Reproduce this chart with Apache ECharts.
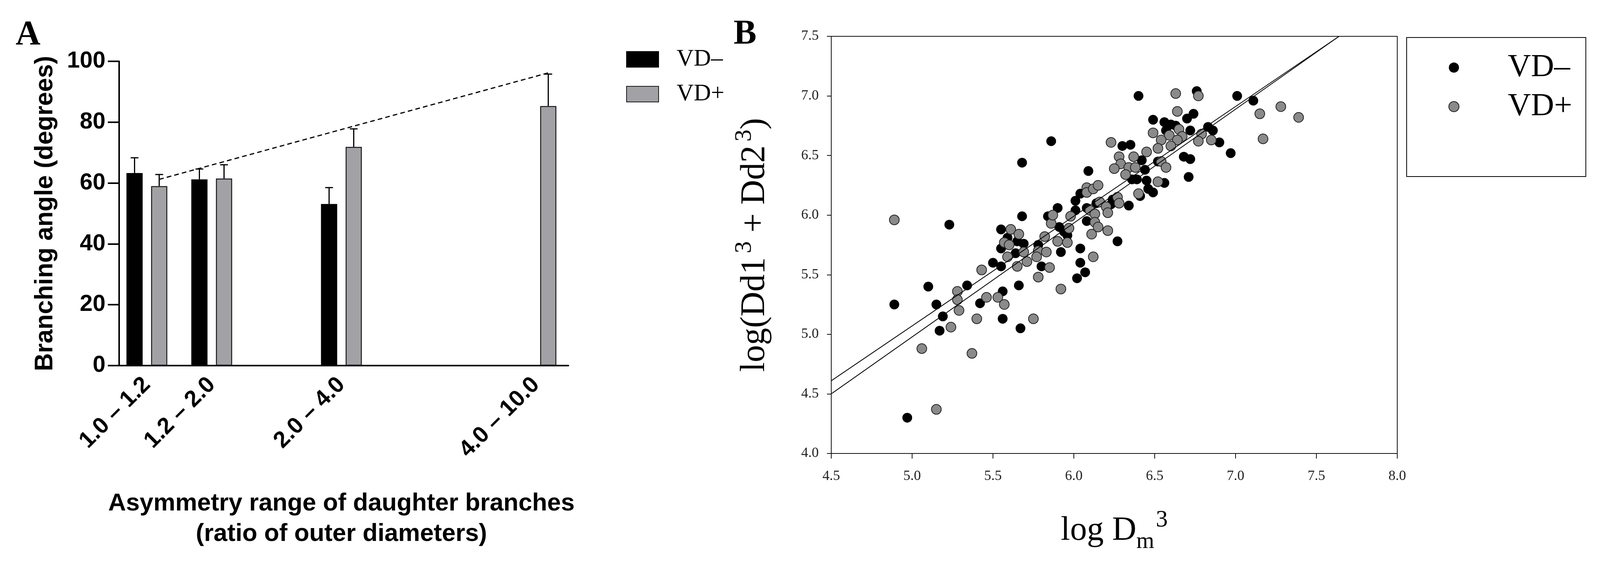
<!DOCTYPE html>
<html>
<head>
<meta charset="utf-8">
<script src="https://cdn.jsdelivr.net/npm/echarts@6/dist/echarts.min.js"></script>
<style>
  html, body { margin: 0; padding: 0; background: #fff; overflow: hidden; }
  #chart { width: 100vw; height: 100vh; }
</style>
</head>
<body>
<div id="chart"></div>
<script>
// panel A: branching angle by asymmetry range
var categories = ['1.0 – 1.2', '1.2 – 2.0', '', '2.0 – 4.0', '', '', '4.0 – 10.0'];
var vdMinusMean = [63.3, 61.2, null, 53.1, null, null, null];
var vdMinusErr = [5.0, 3.4, null, 5.4, null, null, null];
var vdPlusMean = [59.0, 61.5, null, 71.9, null, null, 85.3];
var vdPlusErr = [3.8, 4.5, null, 5.9, null, null, 10.5];
// dashed trend through the VD+ bars (first and last group)
var trendIdx = [0, 6];
var trendVal = [61.2, 96.2];

// panel B: log Dm^3 vs log(Dd1^3 + Dd2^3)
var vdMinusPoints = [
  [4.89, 5.25], [5.10, 5.40], [4.97, 4.30], [5.17, 5.03], [5.19, 5.15], [5.15, 5.25],
  [5.34, 5.41], [5.42, 5.26], [5.23, 5.92], [5.56, 5.13], [5.67, 5.05],
  [5.68, 6.44], [6.09, 6.37], [5.68, 5.99], [5.55, 5.88], [5.59, 5.81], [5.65, 5.78],
  [5.69, 5.76], [5.55, 5.72], [5.64, 5.68], [5.50, 5.60], [5.55, 5.57], [5.56, 5.36],
  [5.66, 5.41], [5.80, 5.57], [5.92, 5.69], [6.04, 5.72], [6.04, 5.60], [6.07, 5.52],
  [6.02, 5.47], [5.78, 5.75], [5.91, 5.90], [5.94, 5.86], [5.96, 5.83], [5.84, 5.99],
  [5.90, 6.06], [6.01, 6.04], [6.01, 6.12], [6.04, 6.18], [6.08, 6.06], [6.08, 5.95],
  [6.14, 6.10], [6.27, 5.78], [5.86, 6.62],
  [6.40, 7.00], [6.76, 7.04], [7.01, 7.00], [7.11, 6.96], [6.74, 6.85], [6.70, 6.81],
  [6.49, 6.80], [6.56, 6.78], [6.60, 6.76], [6.63, 6.75], [6.57, 6.71], [6.72, 6.71],
  [6.83, 6.74], [6.86, 6.71], [6.90, 6.61], [6.97, 6.52], [6.68, 6.49], [6.72, 6.47],
  [6.71, 6.32], [6.52, 6.45], [6.56, 6.27], [6.30, 6.58], [6.35, 6.59], [6.42, 6.46],
  [6.44, 6.38], [6.36, 6.30], [6.39, 6.30], [6.45, 6.29], [6.41, 6.16], [6.49, 6.19],
  [6.46, 6.22], [6.24, 6.13], [6.34, 6.08], [6.23, 6.09]
];
var vdPlusPoints = [
  [4.89, 5.96], [5.15, 4.37], [5.06, 4.88], [5.37, 4.84], [5.24, 5.06], [5.28, 5.36],
  [5.28, 5.29], [5.29, 5.20], [5.40, 5.13], [5.46, 5.31], [5.43, 5.54], [5.75, 5.13],
  [5.61, 5.88], [5.66, 5.84], [5.57, 5.77], [5.60, 5.75], [5.59, 5.65], [5.69, 5.69],
  [5.65, 5.57], [5.71, 5.61], [5.53, 5.31], [5.57, 5.25], [5.85, 5.56], [5.78, 5.48],
  [5.92, 5.38], [6.12, 5.65], [5.78, 5.70], [5.83, 5.69], [5.77, 5.65], [5.82, 5.82],
  [5.90, 5.78], [5.96, 5.77], [5.97, 5.89], [5.86, 5.93], [5.87, 6.00], [5.98, 5.99],
  [6.08, 6.23], [6.08, 6.19], [6.12, 6.22], [6.15, 6.25], [6.10, 6.04], [6.13, 6.01],
  [6.13, 5.94], [6.15, 5.90], [6.11, 5.84], [6.21, 5.87], [6.16, 6.11], [6.20, 6.07],
  [6.21, 6.02],
  [6.63, 7.02], [6.77, 7.00], [6.64, 6.87], [6.65, 6.72], [6.49, 6.69], [6.59, 6.67],
  [6.67, 6.66], [6.54, 6.63], [6.52, 6.56], [6.64, 6.63], [6.60, 6.58], [6.79, 6.68],
  [6.77, 6.62], [6.85, 6.63], [6.54, 6.45], [6.57, 6.40], [6.52, 6.28], [6.23, 6.61],
  [6.28, 6.49], [6.45, 6.53], [6.37, 6.49], [6.29, 6.43], [6.34, 6.40], [6.38, 6.40],
  [6.25, 6.39], [6.32, 6.34], [6.40, 6.18], [6.27, 6.15], [6.28, 6.10],
  [7.28, 6.91], [7.15, 6.85], [7.39, 6.82], [7.17, 6.64]
];
var fitUpper = [[4.5, 4.61], [7.64, 7.5]];
var fitLower = [[4.5, 4.50], [7.64, 7.5]];

var sans = 'Liberation Sans';
var serif = 'Liberation Serif';

var chart = echarts.init(document.getElementById('chart'));
// layout was measured on a 4180 wide picture; the window may be narrower
var sx = chart.getWidth() / 4180;
function X(v) { return Math.round(v * sx); }
function F(v) { return Math.round(v * sx); }

// bar layout: width and gap as share of band -> centre offset of each bar
var barFrac = 0.25, gapFrac = 0.52;
var off = barFrac * (1 + gapFrac) / 2;

var errData = [];
categories.forEach(function (c, i) {
  if (vdMinusMean[i] != null) errData.push([i - off, vdMinusMean[i], vdMinusMean[i] + vdMinusErr[i]]);
  if (vdPlusMean[i] != null) errData.push([i + off, vdPlusMean[i], vdPlusMean[i] + vdPlusErr[i]]);
});
var trendData = trendIdx.map(function (i, k) { return [i + off, trendVal[k]]; });

function renderErr(params, api) {
  var p0 = api.coord([api.value(0), api.value(1)]);
  var p1 = api.coord([api.value(0), api.value(2)]);
  var cap = X(10);
  return {
    type: 'group',
    children: [
      { type: 'line', shape: { x1: p0[0], y1: p0[1], x2: p1[0], y2: p1[1] }, style: { stroke: '#000', lineWidth: 3 } },
      { type: 'line', shape: { x1: p1[0] - cap, y1: p1[1], x2: p1[0] + cap, y2: p1[1] }, style: { stroke: '#000', lineWidth: 3 } }
    ]
  };
}

chart.setOption({
  animation: false,
  backgroundColor: '#fff',
  title: [
    { text: 'A', left: X(41), top: 46, padding: 0, textStyle: { fontFamily: serif, fontWeight: 'bold', fontSize: 88, color: '#000' } },
    { text: 'B', left: X(1917), top: 44, padding: 0, textStyle: { fontFamily: serif, fontWeight: 'bold', fontSize: 88, color: '#000' } }
  ],
  legend: [
    {
      orient: 'vertical', left: X(1636), top: 121, padding: 0,
      icon: 'rect', itemWidth: X(84), itemHeight: 40, itemGap: 27,
      selectedMode: false,
      textStyle: { fontFamily: serif, fontSize: F(62), lineHeight: 62, color: '#000', padding: [0, 0, 0, X(42)] },
      data: [{ name: 'VD–' }, { name: 'VD+' }]
    },
    {
      orient: 'vertical', left: X(3675), top: 96, padding: [35, X(36), 137, X(109)],
      borderColor: '#000', borderWidth: 2,
      itemWidth: 26, itemHeight: 26, itemGap: 16,
      selectedMode: false,
      textStyle: { fontFamily: serif, fontSize: F(84), lineHeight: 84, color: '#000', padding: [0, 0, 0, X(122)] },
      data: [
        { name: 'VD–', icon: 'circle', itemStyle: { color: '#000', borderWidth: 0 } },
        { name: 'VD+', icon: 'circle', itemStyle: { color: '#8a8a8a', borderColor: '#222', borderWidth: 2 } }
      ]
    }
  ],
  grid: [
    { left: X(299), top: 157, width: X(1186), height: 779 },
    { left: X(2172), top: 93, width: X(1479), height: 1068, show: true, borderColor: '#111', borderWidth: 2 }
  ],
  xAxis: [
    {
      type: 'category', gridIndex: 0, data: categories,
      axisLine: { onZero: false, lineStyle: { color: '#000', width: 4 } },
      axisTick: { alignWithLabel: true, length: 30, lineStyle: { color: '#000', width: 4 } },
      axisLabel: { interval: 0, rotate: 45, margin: 40, fontFamily: sans, fontWeight: 'bold', fontSize: F(60), color: '#000' },
      name: 'Asymmetry range of daughter branches\n(ratio of outer diameters)',
      nameLocation: 'middle', nameGap: 315,
      nameTextStyle: { fontFamily: sans, fontWeight: 'bold', fontSize: F(64), lineHeight: 78, color: '#000' }
    },
    { type: 'value', gridIndex: 0, min: -0.5, max: 6.5, show: false },
    {
      type: 'value', gridIndex: 1, min: 4.5, max: 8, interval: 0.5,
      splitLine: { show: false },
      axisLine: { onZero: false, lineStyle: { color: '#111', width: 2 } },
      axisTick: { length: 13, lineStyle: { color: '#111', width: 2 } },
      axisLabel: { margin: 41, fontFamily: serif, fontSize: 36, color: '#222', formatter: function (v) { return v.toFixed(1); } },
      name: '{b|log D}{sub|m}{sup|3}',
      nameLocation: 'middle', nameGap: 140,
      nameTextStyle: {
        rich: {
          b: { fontFamily: serif, fontSize: F(88), lineHeight: 116, verticalAlign: 'middle', color: '#000' },
          sub: { fontFamily: serif, fontSize: F(60), lineHeight: 60, verticalAlign: 'bottom', color: '#000' },
          sup: { fontFamily: serif, fontSize: F(62), lineHeight: 62, verticalAlign: 'top', color: '#000', padding: [0, 0, 0, 4] }
        }
      }
    }
  ],
  yAxis: [
    {
      type: 'value', gridIndex: 0, min: 0, max: 100, interval: 20, offset: -X(12),
      splitLine: { show: false },
      axisLine: { show: true, onZero: false, lineStyle: { color: '#000', width: 4 } },
      axisTick: { show: true, length: X(30), lineStyle: { color: '#000', width: 4 } },
      axisLabel: { margin: X(36), fontFamily: sans, fontWeight: 'bold', fontSize: F(60), color: '#000' },
      name: 'Branching angle (degrees)',
      nameLocation: 'middle', nameGap: X(160),
      nameTextStyle: { fontFamily: sans, fontWeight: 'bold', fontSize: 64, color: '#000' }
    },
    {
      type: 'value', gridIndex: 1, min: 4, max: 7.5, interval: 0.5,
      splitLine: { show: false },
      axisLine: { show: true, onZero: false, lineStyle: { color: '#111', width: 2 } },
      axisTick: { show: true, length: X(11), lineStyle: { color: '#111', width: 2 } },
      axisLabel: { margin: X(33), fontFamily: serif, fontSize: 36, color: '#222', formatter: function (v) { return v.toFixed(1); } },
      name: '{b|log(Dd1}{sup|3}{b| + Dd2}{sup|3}{b|)}',
      nameLocation: 'middle', nameGap: X(140),
      nameTextStyle: {
        rich: {
          b: { fontFamily: serif, fontSize: 88, lineHeight: 116, verticalAlign: 'middle', color: '#000' },
          sup: { fontFamily: serif, fontSize: 62, lineHeight: 62, verticalAlign: 'top', color: '#000', padding: [0, 0, 0, 10] }
        }
      }
    }
  ],
  series: [
    {
      name: 'VD–', type: 'bar', xAxisIndex: 0, yAxisIndex: 0,
      barWidth: (barFrac * 100) + '%', barGap: (gapFrac * 100) + '%',
      itemStyle: { color: '#000', borderColor: '#000', borderWidth: 2 },
      data: vdMinusMean
    },
    {
      name: 'VD+', type: 'bar', xAxisIndex: 0, yAxisIndex: 0,
      barWidth: (barFrac * 100) + '%', barGap: (gapFrac * 100) + '%',
      itemStyle: { color: '#a2a2a6', borderColor: '#1a1a1a', borderWidth: 2.5 },
      data: vdPlusMean
    },
    {
      type: 'custom', xAxisIndex: 1, yAxisIndex: 0, z: 3,
      renderItem: renderErr, data: errData, silent: true
    },
    {
      type: 'line', xAxisIndex: 1, yAxisIndex: 0, z: 4,
      symbol: 'none', silent: true,
      lineStyle: { color: '#000', width: 3, type: [12, 8] },
      data: trendData
    },
    {
      type: 'line', xAxisIndex: 2, yAxisIndex: 1, symbol: 'none', silent: true,
      lineStyle: { color: '#000', width: 2 }, data: fitUpper
    },
    {
      type: 'line', xAxisIndex: 2, yAxisIndex: 1, symbol: 'none', silent: true,
      lineStyle: { color: '#000', width: 2 }, data: fitLower
    },
    {
      name: 'VD–', type: 'scatter', xAxisIndex: 2, yAxisIndex: 1, symbolSize: 25,
      itemStyle: { color: '#000', opacity: 1 },
      data: vdMinusPoints
    },
    {
      name: 'VD+', type: 'scatter', xAxisIndex: 2, yAxisIndex: 1, symbolSize: 25,
      itemStyle: { color: '#8a8a8a', borderColor: '#222', borderWidth: 2, opacity: 1 },
      data: vdPlusPoints
    }
  ]
});
</script>
</body>
</html>
